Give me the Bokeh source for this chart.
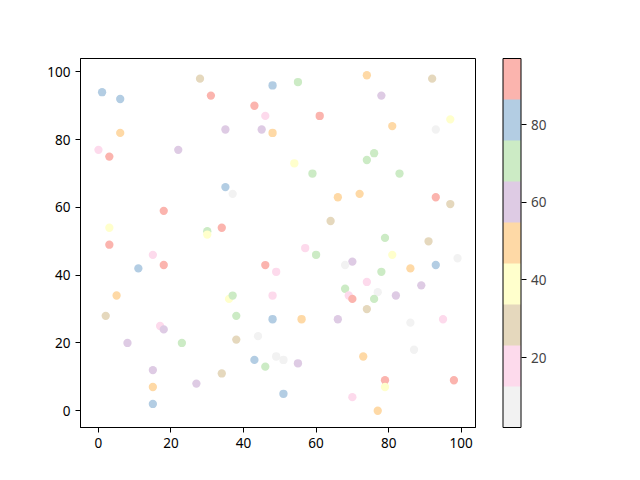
from bokeh.plotting import figure
from bokeh.models import (ColumnDataSource, LinearColorMapper, ColorBar, FixedTicker,
                          Range1d)
from bokeh.embed import file_html
from bokeh.resources import INLINE

# point data
x_vals = [1, 6, 28, 31, 48, 43, 46, 35, 45, 48, 6, 0, 3, 22, 35, 37, 18, 3, 30, 30,
          34, 3, 55, 74, 92, 78, 61, 97, 81, 93, 76, 74, 54, 59, 83, 66, 72, 93, 97, 64,
          79, 91, 57, 15, 11, 18, 46, 49, 5, 36, 37, 48, 2, 38, 48, 17, 18, 8, 23, 38,
          44, 43, 46, 49, 15, 15, 15, 27, 34, 51, 60, 70, 68, 81, 86, 93, 99, 78, 74, 89,
          68, 69, 70, 77, 76, 82, 74, 56, 66, 86, 95, 51, 55, 87, 73, 79, 79, 98, 70, 77]
y_vals = [94, 92, 98, 93, 96, 90, 87, 83, 83, 82, 82, 77, 75, 77, 66, 64, 59, 54, 53, 52,
          54, 49, 97, 99, 98, 93, 87, 86, 84, 83, 76, 74, 73, 70, 70, 63, 64, 63, 61, 56,
          51, 50, 48, 46, 42, 43, 43, 41, 34, 33, 34, 34, 28, 28, 27, 25, 24, 20, 20, 21,
          22, 15, 13, 16, 12, 7, 2, 8, 11, 5, 46, 44, 43, 46, 42, 43, 45, 41, 38, 37,
          36, 34, 33, 35, 33, 34, 30, 27, 27, 26, 27, 15, 14, 18, 16, 9, 7, 9, 4, 0]
# colour values (band estimates): grey 7, pink 18, tan 28, yellow 39, orange 50,
# purple 60, green 71, blue 81, red 92
c_vals = [81, 81, 28, 92, 81, 92, 18, 60, 60, 50, 50, 18, 92, 60, 81, 7, 92, 39, 71, 39,
          92, 92, 71, 50, 28, 60, 92, 39, 50, 7, 71, 71, 39, 71, 71, 50, 50, 92, 28, 28,
          71, 28, 18, 18, 81, 92, 92, 18, 50, 39, 71, 18, 28, 71, 81, 18, 60, 60, 71, 28,
          7, 81, 71, 7, 60, 50, 81, 60, 28, 81, 71, 60, 7, 39, 50, 81, 7, 71, 18, 60,
          71, 18, 92, 7, 71, 60, 28, 50, 60, 7, 18, 7, 60, 7, 50, 92, 39, 92, 18, 50]
c_low, c_high = 2, 97
cbar_ticks = [20, 40, 60, 80]
axis_ticks = [0, 20, 40, 60, 80, 100]

palette = ["#f2f2f2", "#fddaec", "#e5d8bd", "#ffffcc", "#fed9a6",
           "#decbe4", "#ccebc5", "#b3cde3", "#fbb4ae"]

FONT = "Noto Sans"
FS = "13.5px"

src = ColumnDataSource(dict(x=x_vals, y=y_vals, c=c_vals))
mapper = LinearColorMapper(palette=palette, low=c_low, high=c_high)

p = figure(frame_width=395, frame_height=369, output_backend="svg",
           toolbar_location=None, x_range=Range1d(-4.95, 103.95),
           y_range=Range1d(-4.95, 103.95), min_border_left=80, min_border_top=58,
           min_border_bottom=40, min_border_right=140)
p.scatter("x", "y", source=src, size=8.3, line_color=None,
          fill_color={"field": "c", "transform": mapper})

p.xgrid.visible = False
p.ygrid.visible = False
p.outline_line_color = "black"
p.outline_line_width = 1
p.background_fill_color = "white"
p.border_fill_color = "white"
for ax in (p.xaxis[0], p.yaxis[0]):
    ax.ticker = FixedTicker(ticks=axis_ticks)
    ax.minor_tick_line_color = None
    ax.major_tick_in = 0
    ax.major_tick_out = 5
    ax.major_tick_line_color = "black"
    ax.axis_line_color = "black"
    ax.major_label_text_font = FONT
    ax.major_label_text_font_size = FS
    ax.major_label_text_color = "black"
    ax.major_label_standoff = 5

cb = ColorBar(color_mapper=mapper, width=18, height=369, padding=0, margin=0,
              ticker=FixedTicker(ticks=cbar_ticks), major_tick_in=0, major_tick_out=5,
              major_tick_line_color="black", minor_tick_line_color=None,
              bar_line_color="black", border_line_color=None,
              background_fill_alpha=0, major_label_text_font=FONT,
              major_label_text_font_size=FS, label_standoff=5,
              location=(422.5, 0))
p.add_layout(cb, "center")

open("out.html", "w").write(file_html(p, INLINE))
